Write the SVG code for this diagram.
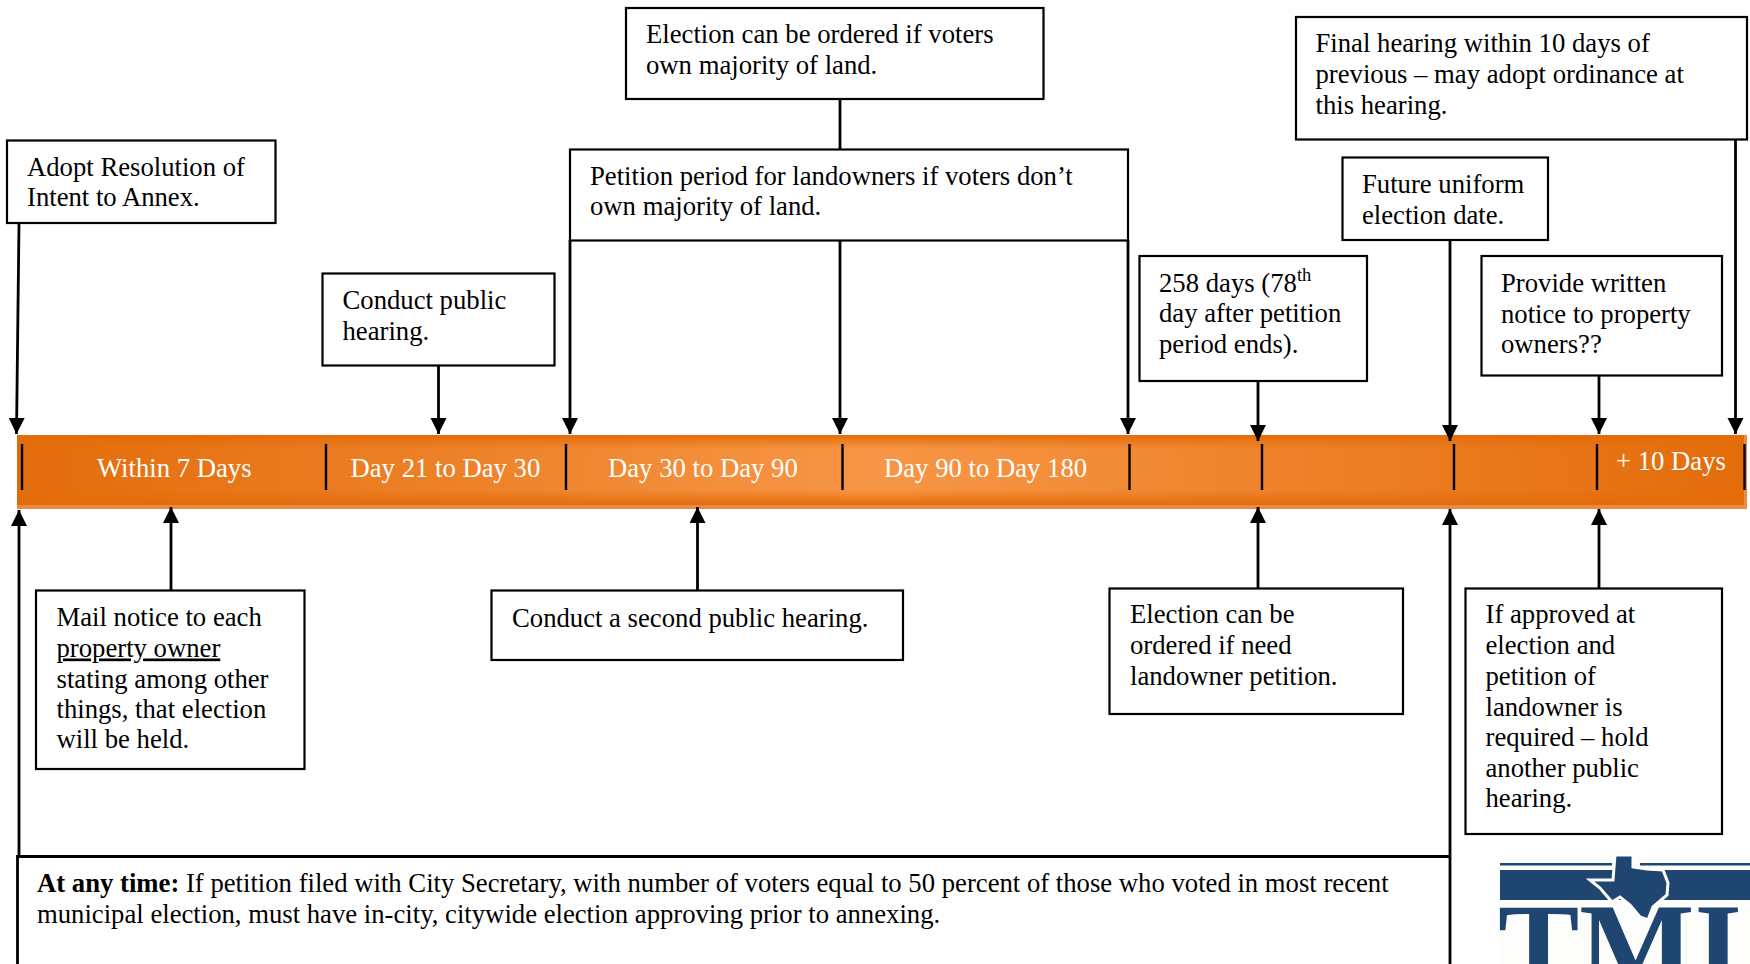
<svg xmlns="http://www.w3.org/2000/svg" width="1750" height="964" viewBox="0 0 1750 964">
<style>
text{font-family:"Liberation Serif","Times New Roman",serif;font-size:26.7px;fill:#000}
.band{fill:#fff}
.box{fill:#fff;stroke:#000;stroke-width:2.2}
.con{fill:none;stroke:#000;stroke-width:2.8}
.tick{stroke:#000;stroke-width:2.4}
.logo{fill:#1f4670}
</style>
<defs>
<linearGradient id="h" x1="0" x2="1" y1="0" y2="0"><stop offset="0" stop-color="#E36C0A"/><stop offset=".5" stop-color="#F79646"/><stop offset="1" stop-color="#E36C0A"/></linearGradient>
<linearGradient id="v" x1="0" x2="0" y1="0" y2="1"><stop offset="0" stop-color="#E36C0A"/><stop offset=".2" stop-color="#E36C0A" stop-opacity="0"/><stop offset=".78" stop-color="#E36C0A" stop-opacity="0"/><stop offset="1" stop-color="#E36C0A"/></linearGradient>
<marker id="a" markerUnits="userSpaceOnUse" markerWidth="16" markerHeight="18" refX="16" refY="8" orient="auto"><path d="M0 0L16 8L0 16Z" fill="#000"/></marker>
</defs>
<g id="timeline">
<rect x="17" y="435" width="1730" height="74" fill="#EA8A45"/>
<rect x="17" y="435" width="1727" height="70" fill="url(#h)"/>
<rect x="17" y="435" width="1727" height="70" fill="url(#v)"/>
<path class="tick" d="M22 444V490M326 444V490M566 444V490M842.500 444V490M1129.500 444V490M1262 444V490M1454 444V490M1597 444V490M1744.500 444V490"/>
<text class="band" x="97" y="477">Within 7 Days</text>
<text class="band" x="350.500" y="477">Day 21 to Day 30</text>
<text class="band" x="608" y="477">Day 30 to Day 90</text>
<text class="band" x="884" y="477">Day 90 to Day 180</text>
<text class="band" x="1616" y="470">+ 10 Days</text>
</g>
<g id="connectors">
<path class="con" d="M19 223L16.500 434" marker-end="url(#a)"/>
<path class="con" d="M438.500 365V434" marker-end="url(#a)"/>
<path class="con" d="M570 240V434" marker-end="url(#a)"/>
<path class="con" d="M840 99V149"/>
<path class="con" d="M840 240V434" marker-end="url(#a)"/>
<path class="con" d="M1128 240V434" marker-end="url(#a)"/>
<path class="con" d="M1258 380V441" marker-end="url(#a)"/>
<path class="con" d="M1450 240V441" marker-end="url(#a)"/>
<path class="con" d="M1599 375V434" marker-end="url(#a)"/>
<path class="con" d="M1735.500 139V434" marker-end="url(#a)"/>
<path class="con" d="M19 856V510" marker-end="url(#a)"/>
<path class="con" d="M171 590V507" marker-end="url(#a)"/>
<path class="con" d="M697.500 590V507" marker-end="url(#a)"/>
<path class="con" d="M1258 588V507" marker-end="url(#a)"/>
<path class="con" d="M1450 964V509" marker-end="url(#a)"/>
<path class="con" d="M1599 591V509" marker-end="url(#a)"/>
</g>
<g id="adopt"><rect class="box" x="7" y="140.500" width="268.500" height="82.500"/><text x="27" y="176">Adopt Resolution of</text><text x="27" y="206">Intent to Annex.</text></g>
<g id="hearing1"><rect class="box" x="322.500" y="273.500" width="232" height="92"/><text x="342.500" y="309">Conduct public</text><text x="342.500" y="340">hearing.</text></g>
<g id="majority"><rect class="box" x="626" y="8" width="417.500" height="91"/><text x="646" y="42.500">Election can be ordered if voters</text><text x="646" y="73.500">own majority of land.</text></g>
<g id="petition"><rect class="box" x="570" y="149.500" width="558" height="91"/><text x="590" y="184.500">Petition period for landowners if voters don’t</text><text x="590" y="215">own majority of land.</text></g>
<g id="days258"><rect class="box" x="1139.500" y="256" width="227.500" height="125"/><text x="1159" y="292">258 days (78<tspan font-size="18.500px" dy="-11">th</tspan></text><text x="1159" y="322">day after petition</text><text x="1159" y="352.500">period ends).</text></g>
<g id="final"><rect class="box" x="1296" y="17" width="451" height="122.500"/><text x="1315.500" y="51.500">Final hearing within 10 days of</text><text x="1315.500" y="82.500">previous – may adopt ordinance at</text><text x="1315.500" y="113.500">this hearing.</text></g>
<g id="future"><rect class="box" x="1342.500" y="157.500" width="205.500" height="82.500"/><text x="1362" y="192.500">Future uniform</text><text x="1362" y="223.500">election date.</text></g>
<g id="notice"><rect class="box" x="1481.500" y="256" width="240.500" height="119.500"/><text x="1501" y="292">Provide written</text><text x="1501" y="322.500">notice to property</text><text x="1501" y="353">owners??</text></g>
<g id="mail"><rect class="box" x="36" y="590.500" width="268.500" height="178.500"/><text x="56.500" y="625.500">Mail notice to each</text><text x="56.500" y="656.500" style="text-decoration:underline;text-decoration-skip-ink:none">property owner</text><text x="56.500" y="687.500">stating among other</text><text x="56.500" y="718">things, that election</text><text x="56.500" y="748">will be held.</text></g>
<g id="hearing2"><rect class="box" x="491.500" y="590.500" width="411.500" height="69.500"/><text x="512" y="627">Conduct a second public hearing.</text></g>
<g id="need"><rect class="box" x="1109.500" y="588.500" width="293.500" height="125.500"/><text x="1130" y="622.500">Election can be</text><text x="1130" y="654">ordered if need</text><text x="1130" y="685">landowner petition.</text></g>
<g id="approved"><rect class="box" x="1465.500" y="588.500" width="256.500" height="245.500"/><text x="1485.500" y="622.500">If approved at</text><text x="1485.500" y="654">election and</text><text x="1485.500" y="685">petition of</text><text x="1485.500" y="715.500">landowner is</text><text x="1485.500" y="746">required – hold</text><text x="1485.500" y="777">another public</text><text x="1485.500" y="807">hearing.</text></g>
<g id="anytime"><path class="con" d="M17.500 964V856.500H1450"/><text x="37" y="892"><tspan font-weight="700">At any time:</tspan> If petition filed with City Secretary, with number of voters equal to 50 percent of those who voted in most recent</text><text x="37" y="922.500">municipal election, must have in-city, citywide election approving prior to annexing.</text></g>
<g id="logo">
<rect x="1499" y="855" width="251" height="109" fill="#fdfdfb"/>
<rect class="logo" x="1500" y="863" width="112" height="2.500"/><rect class="logo" x="1640" y="863" width="110" height="2.500"/>
<rect class="logo" x="1500" y="870" width="250" height="30"/>
<text x="1498" y="988" style="font-size:122px;font-weight:700;fill:#1f4670">TMI</text>
<path class="logo" stroke="#fff" stroke-width="3" d="M1615 855H1633V867L1647 869L1663 870L1668 883L1667 895L1653 907L1648 920L1640 917L1630 905L1620 897L1612 902L1600 888L1590 880L1613 880Z"/>
</g>
</svg>
